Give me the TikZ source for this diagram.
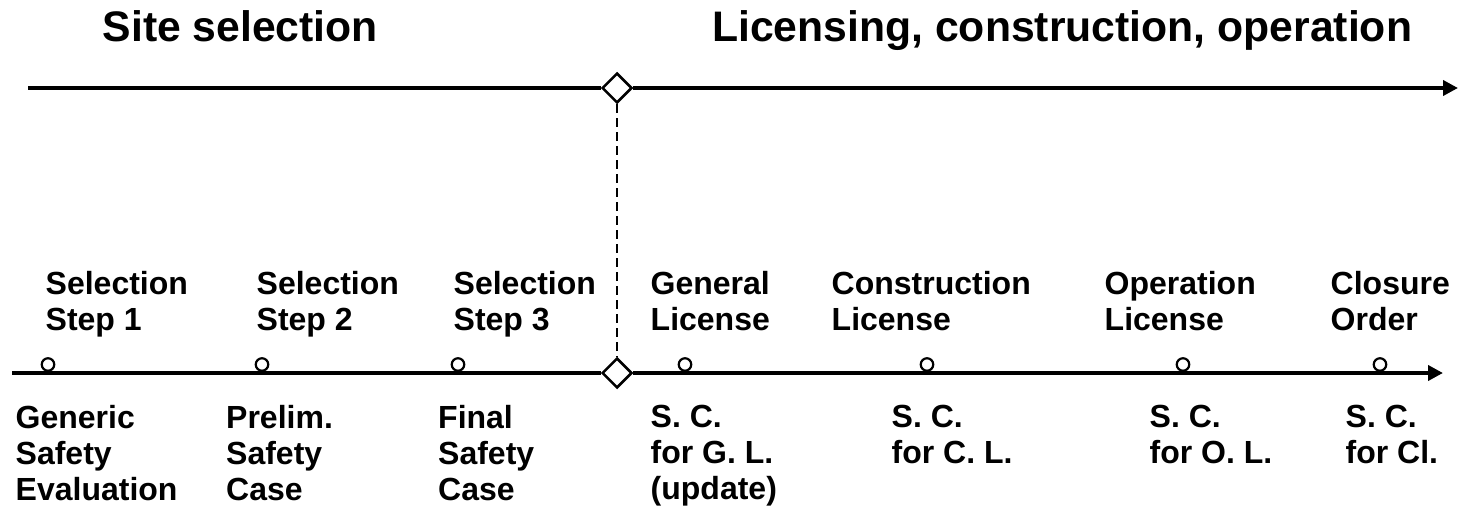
\documentclass[tikz,border=0pt]{standalone}
\usepackage{fontspec}
\setmainfont{Liberation Sans}
\usetikzlibrary{arrows.meta,shapes.geometric}
\begin{document}
\begin{tikzpicture}[x=1pt,y=-1pt,
  title/.style={anchor=north west,inner sep=0pt,font=\fontsize{42.7}{48}\selectfont\bfseries},
  lbl/.style={anchor=north west,inner sep=0pt,align=left,font=\fontsize{32}{36}\selectfont\bfseries},
  axis/.style={line width=4pt},
  axisarrow/.style={line width=4pt,-{Triangle[length=15pt,width=15pt]}},
  gate/.style={draw,diamond,line width=2.5pt,fill=white,minimum width=30pt,minimum height=30pt,inner sep=0pt},
  evdot/.style={draw,circle,line width=2.2pt,fill=white,minimum size=12.5pt,inner sep=0pt},
  sep/.style={line width=2.4pt,dash pattern=on 9pt off 5pt}]
\useasboundingbox (0,0) rectangle (1460,514);
% titles
\node[title] (t1) at (102.5,10.8) {Site selection};
\node[title] (t2) at (712,10.8) {Licensing, construction, operation};
% top axis
\coordinate (ts) at (28,88);
\coordinate (te) at (1458,88);
\node[gate] (dtop) at (617,88) {};
\draw[axis] (ts) -- (dtop);
\draw[axisarrow] (dtop) -- (te);
% bottom axis
\coordinate (bs) at (12,373);
\coordinate (be) at (1443,373);
\node[gate] (dbot) at (617,373) {};
\draw[axis] (bs) -- (dbot);
\draw[axisarrow] (dbot) -- (be);
\node[evdot] (m1) at (48,364.5) {};
\node[evdot] (m2) at (262,364.5) {};
\node[evdot] (m3) at (458,364.5) {};
\node[evdot] (m4) at (685,364.5) {};
\node[evdot] (m5) at (927,364.5) {};
\node[evdot] (m6) at (1183,364.5) {};
\node[evdot] (m7) at (1380,364.5) {};
\draw[sep] (dtop.south) -- (dbot.north);
% upper labels
\node[lbl] (u1) at (45.5,271) {Selection\\Step 1};
\node[lbl] (u2) at (256.5,271) {Selection\\Step 2};
\node[lbl] (u3) at (453.5,271) {Selection\\Step 3};
\node[lbl] (u4) at (650.5,271) {General\\License};
\node[lbl] (u5) at (831.5,271) {Construction\\License};
\node[lbl] (u6) at (1104.5,271) {Operation\\License};
\node[lbl] (u7) at (1330.5,271) {Closure\\Order};
% lower labels
\node[lbl] (l1) at (15.5,405) {Generic\\Safety\\Evaluation};
\node[lbl] (l2) at (226,405) {Prelim.\\Safety\\Case};
\node[lbl] (l3) at (438,405) {Final\\Safety\\Case};
\node[lbl] (l4) at (650.5,405) {S. C.\\for G. L.\\(update)};
\node[lbl] (l5) at (891.5,405) {S. C.\\for C. L.};
\node[lbl] (l6) at (1149.5,405) {S. C.\\for O. L.};
\node[lbl] (l7) at (1345.5,405) {S. C.\\for Cl.};
\end{tikzpicture}
\end{document}
